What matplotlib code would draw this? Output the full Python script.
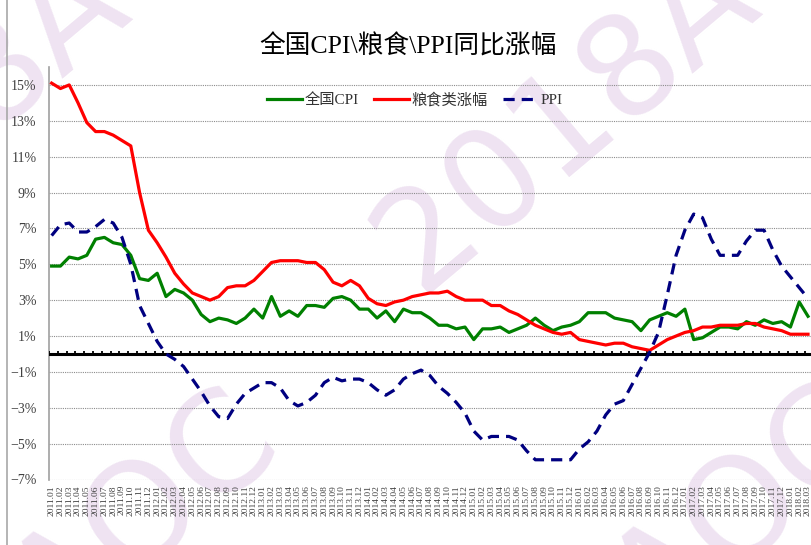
import matplotlib
matplotlib.use('Agg')
import matplotlib.pyplot as plt
from matplotlib.lines import Line2D
import numpy as np

# monthly data 2011.01 - 2018.03
labels = [f"{y}.{m:02d}" for y in range(2011, 2019) for m in range(1, 13)][:87]

cpi = [4.9, 4.9, 5.4, 5.3, 5.5, 6.4, 6.5, 6.2, 6.1, 5.5, 4.2, 4.1,
       4.5, 3.2, 3.6, 3.4, 3.0, 2.2, 1.8, 2.0, 1.9, 1.7, 2.0, 2.5,
       2.0, 3.2, 2.1, 2.4, 2.1, 2.7, 2.7, 2.6, 3.1, 3.2, 3.0, 2.5,
       2.5, 2.0, 2.4, 1.8, 2.5, 2.3, 2.3, 2.0, 1.6, 1.6, 1.4, 1.5,
       0.8, 1.4, 1.4, 1.5, 1.2, 1.4, 1.6, 2.0, 1.6, 1.3, 1.5, 1.6,
       1.8, 2.3, 2.3, 2.3, 2.0, 1.9, 1.8, 1.3, 1.9, 2.1, 2.3, 2.1,
       2.5, 0.8, 0.9, 1.2, 1.5, 1.5, 1.4, 1.8, 1.6, 1.9, 1.7, 1.8,
       1.5, 2.9, 2.1]

grain = [15.1, 14.8, 15.0, 14.0, 12.9, 12.4, 12.4, 12.2, 11.9, 11.6, 9.0, 6.9,
         6.2, 5.4, 4.5, 3.9, 3.4, 3.2, 3.0, 3.2, 3.7, 3.8, 3.8, 4.1,
         4.6, 5.1, 5.2, 5.2, 5.2, 5.1, 5.1, 4.7, 4.0, 3.8, 4.1, 3.8,
         3.1, 2.8, 2.7, 2.9, 3.0, 3.2, 3.3, 3.4, 3.4, 3.5, 3.2, 3.0,
         3.0, 3.0, 2.7, 2.7, 2.4, 2.2, 1.9, 1.6, 1.4, 1.2, 1.1, 1.2,
         0.8, 0.7, 0.6, 0.5, 0.6, 0.6, 0.4, 0.3, 0.2, 0.5, 0.8, 1.0,
         1.2, 1.3, 1.5, 1.5, 1.6, 1.6, 1.6, 1.7, 1.7, 1.5, 1.4, 1.3,
         1.1, 1.1, 1.1]

ppi = [6.6, 7.2, 7.3, 6.8, 6.8, 7.1, 7.5, 7.3, 6.5, 5.0, 2.7, 1.7,
       0.7, 0.0, -0.3, -0.7, -1.4, -2.1, -2.9, -3.5, -3.6, -2.8, -2.2, -1.9,
       -1.6, -1.6, -1.9, -2.6, -2.9, -2.7, -2.3, -1.6, -1.3, -1.5, -1.4, -1.4,
       -1.6, -2.0, -2.3, -2.0, -1.4, -1.1, -0.9, -1.2, -1.8, -2.2, -2.7, -3.3,
       -4.3, -4.8, -4.6, -4.6, -4.6, -4.8, -5.4, -5.9, -5.9, -5.9, -5.9, -5.9,
       -5.3, -4.9, -4.3, -3.4, -2.8, -2.6, -1.7, -0.8, 0.1, 1.2, 3.3, 5.5,
       6.9, 7.8, 7.6, 6.4, 5.5, 5.5, 5.5, 6.3, 6.9, 6.9, 5.8, 4.9,
       4.3, 3.7, 3.1]

yticks = list(range(-7, 16, 2))

W, H = 811, 545
fig = plt.figure(figsize=(W / 100, H / 100), dpi=100)

# watermark
for cx, cy in [(645, 55), (15, 60), (10, 625), (610, 620)]:
    fig.text(cx / W, 1 - cy / H, "2018AOC", rotation=40, fontsize=100,
             color='#efe3f2', ha='center', va='center', zorder=-5,
             family='DejaVu Sans', rotation_mode='anchor')

fig.add_artist(Line2D([7 / W, 7 / W], [0, 1], color='#a8a8a8', lw=1.2))

ax = fig.add_axes([49 / W, (H - 479.5) / H, (W - 49) / W, (479.5 - 67) / H])
ax.set_facecolor('none')

x = np.arange(len(labels))
ax.plot(x, cpi, color='#008000', lw=2.3, label='全国CPI', zorder=4)
ax.plot(x, grain, color='#ff0000', lw=2.3, label='粮食类涨幅', zorder=4)
ax.plot(x, ppi, color='#000080', lw=2.3, ls=(0, (3.5, 2.2)), label='PPI', zorder=4)

# zero axis with small tick marks
ax.axhline(0, color='black', lw=2.2, zorder=3)
ax.vlines(x - 0.3, 0, 0.16, color='black', lw=1.3, zorder=3)

ax.set_xlim(-0.3, 86.34)
ax.set_ylim(-7, 16)
ax.set_yticks(yticks)
ax.set_yticklabels([f"{v}%".replace('-', '−') for v in yticks],
                   family='Liberation Serif', fontsize=10, color='#404040')
ax.set_xticks(x)
ax.set_xticklabels(labels, rotation=90, family='Liberation Serif', fontsize=6.8, color='#404040')
ax.tick_params(axis='y', length=0, pad=9)
ax.tick_params(axis='x', length=0, pad=4)
ax.grid(axis='y', color='#8c8c8c', ls=(0, (1, 1)), lw=0.8)
for s in ['top', 'right', 'bottom']:
    ax.spines[s].set_visible(False)
ax.spines['left'].set_color('#a0a0a0')
ax.spines['left'].set_linewidth(1.2)

leg = ax.legend(loc='center', bbox_to_anchor=(415 / W, 1 - 100 / H), bbox_transform=fig.transFigure,
                ncol=3, frameon=False, handlelength=2.3, handletextpad=0.15, columnspacing=1.0,
                prop={'family': ['Liberation Serif', 'Noto Sans CJK SC'], 'size': 11})
for t in leg.get_texts():
    t.set_color('#333333')

fig.text(408 / W, 1 - 46 / H, "全国CPI\\粮食\\PPI同比涨幅", ha='center', va='center',
         fontsize=18.5, family=['Liberation Serif', 'Noto Sans CJK SC'], color='black')

fig.savefig('out.png', dpi=100)
